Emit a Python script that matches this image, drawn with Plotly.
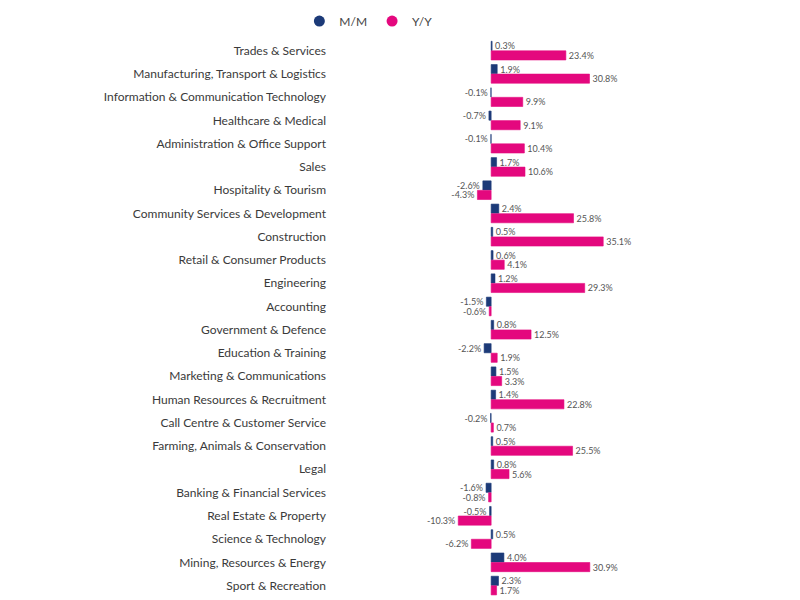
import plotly.graph_objects as go

categories = [
    "Trades & Services",
    "Manufacturing, Transport & Logistics",
    "Information & Communication Technology",
    "Healthcare & Medical",
    "Administration & Office Support",
    "Sales",
    "Hospitality & Tourism",
    "Community Services & Development",
    "Construction",
    "Retail & Consumer Products",
    "Engineering",
    "Accounting",
    "Government & Defence",
    "Education & Training",
    "Marketing & Communications",
    "Human Resources & Recruitment",
    "Call Centre & Customer Service",
    "Farming, Animals & Conservation",
    "Legal",
    "Banking & Financial Services",
    "Real Estate & Property",
    "Science & Technology",
    "Mining, Resources & Energy",
    "Sport & Recreation",
]
mm = [0.3, 1.9, -0.1, -0.7, -0.1, 1.7, -2.6, 2.4, 0.5, 0.6, 1.2, -1.5, 0.8, -2.2,
      1.5, 1.4, -0.2, 0.5, 0.8, -1.6, -0.5, 0.5, 4.0, 2.3]
yy = [23.4, 30.8, 9.9, 9.1, 10.4, 10.6, -4.3, 25.8, 35.1, 4.1, 29.3, -0.6, 12.5, 1.9,
      3.3, 22.8, 0.7, 25.5, 5.6, -0.8, -10.3, -6.2, 30.9, 1.7]

NAVY = "#1c3a78"
PINK = "#e4087e"
FONT = "Lato, Inter, sans-serif"

fig = go.Figure()
for name, vals, col in [("M/M", mm, NAVY), ("Y/Y", yy, PINK)]:
    fig.add_trace(go.Bar(
        y=categories, x=vals, orientation="h", name=name,
        marker=dict(color=col, line=dict(color=col, width=0.6)),
        text=[f"{v:.1f}%" for v in vals], textposition="outside",
        textfont=dict(size=9, color="#555555", family=FONT),
        constraintext="none", cliponaxis=False, showlegend=False,
    ))
    fig.add_trace(go.Scatter(
        x=[None], y=[None], mode="markers", name=name,
        marker=dict(color=col, size=11, symbol="circle"),
    ))

fig.update_layout(
    width=792, height=592,
    margin=dict(l=327, r=146, t=31, b=0),
    paper_bgcolor="white", plot_bgcolor="white",
    barmode="group", bargap=0.18, bargroupgap=0.04,
    font=dict(family=FONT, color="#3a3a3a", size=12),
    legend=dict(orientation="h", xref="container", yref="container",
                x=0.455, xanchor="center", y=0.978, yanchor="middle",
                font=dict(size=12, color="#444444"), itemwidth=30),
    xaxis=dict(range=[-48.9, 51], visible=False, zeroline=False, showgrid=False),
    yaxis=dict(range=[23.62, -0.5], showgrid=False, zeroline=False, showline=False,
               ticks="", ticklabelstandoff=8, tickfont=dict(size=12, color="#3a3a3a")),
)

fig.write_html("out.html")
